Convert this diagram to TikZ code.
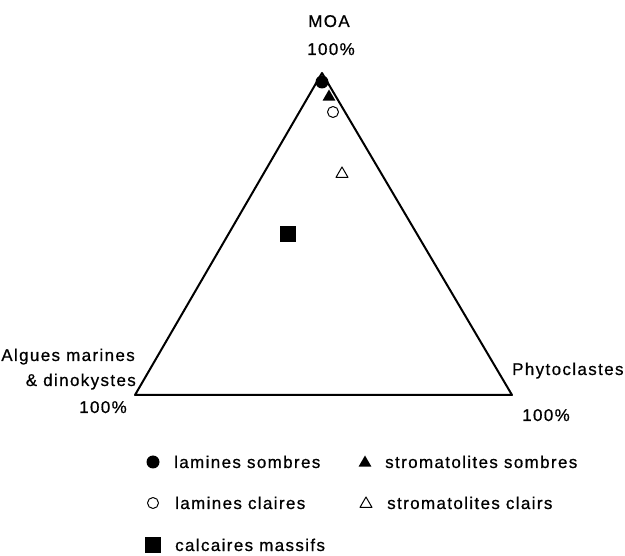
\documentclass[tikz,border=0pt]{standalone}
\usepackage{fontspec}
\setmainfont{Liberation Sans}[LetterSpace=8.0,FakeBold=0.7]
\usepackage{tikz}
\usetikzlibrary{shapes.geometric}

\tikzset{
  lbl/.style={font=\fontsize{17}{20}\selectfont,inner sep=0pt},
  dotfull/.style={circle,fill=black,inner sep=0pt,minimum size=13pt},
  dotopen/.style={circle,draw=black,line width=1pt,inner sep=0pt,minimum size=11pt},
  trifull/.style={regular polygon,regular polygon sides=3,fill=black,inner sep=0pt,minimum size=15pt},
  triopen/.style={regular polygon,regular polygon sides=3,draw=black,line width=1pt,inner sep=0pt,minimum size=14pt},
  sqfull/.style={rectangle,fill=black,inner sep=0pt,minimum size=16pt}
}

\begin{document}
\begin{tikzpicture}[line cap=round,line join=round,x=1pt,y=-1pt]
\useasboundingbox (0,0) rectangle (625,556);
\coordinate (moa) at (322,73);
\coordinate (alg) at (135,395);
\coordinate (phy) at (512,395);
\draw[line width=2pt] (moa)--(alg)--(phy)--cycle;
%
\node[lbl,anchor=base] (tmoa) at (329,27) {MOA};
\node[lbl,anchor=base] (pmoa) at (331,55) {100\%};
\node[lbl,anchor=base east] (talg) at (135,361) {Algues marines};
\node[lbl,anchor=base east] (tdin) at (136,386) {\& dinokystes};
\node[lbl,anchor=base] (palg) at (103,413) {100\%};
\node[lbl,anchor=base west] (tphy) at (512,375) {Phytoclastes};
\node[lbl,anchor=base] (pphy) at (546,421) {100\%};
%
\node[dotfull] (ls) at (322,82) {};
\node[trifull] (ss) at (329,97) {};
\node[dotopen] (lc) at (333,112) {};
\node[triopen] (sc) at (342,174) {};
\node[sqfull] (cm) at (287.5,234) {};
%
\node[dotfull] (kls) at (153,462) {};
\node[lbl,anchor=base west] (tls) at (174,468) {lamines sombres};
\node[trifull] (kss) at (365,463) {};
\node[lbl,anchor=base west] (tss) at (385,468) {stromatolites sombres};
\node[dotopen] (klc) at (153,503) {};
\node[lbl,anchor=base west] (tlc) at (175,509) {lamines claires};
\node[triopen] (ksc) at (366,504) {};
\node[lbl,anchor=base west] (tsc) at (387,509) {stromatolites clairs};
\node[sqfull] (kcm) at (153,545) {};
\node[lbl,anchor=base west] (tcm) at (175,551) {calcaires massifs};
\end{tikzpicture}
\end{document}
